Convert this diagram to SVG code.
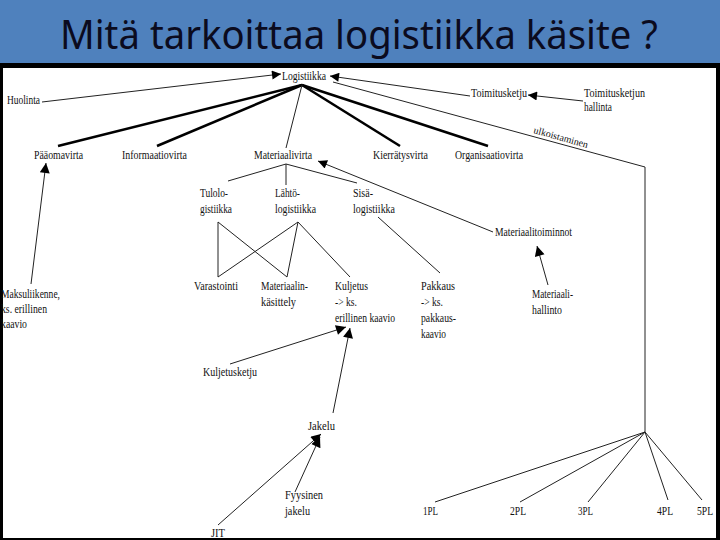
<svg xmlns="http://www.w3.org/2000/svg" width="720" height="540" viewBox="0 0 720 540">
<style>
.t{font-family:"Liberation Serif","Times New Roman",serif;font-size:11.5px;fill:#111}
.s{font-size:10px}
.ln{stroke:#222;stroke-width:1;fill:none}
.th{stroke:#000;stroke-width:2.6;fill:none}
.ttl{font-family:"Noto Sans","Open Sans",sans-serif;font-size:40px;fill:#0b0b1e}
</style>
<defs>
<marker id="ah" viewBox="0 0 10 10" refX="10" refY="5" markerWidth="14" markerHeight="9" markerUnits="userSpaceOnUse" orient="auto">
<path d="M0,0 L10,5 L0,10 Z" fill="#000"/>
</marker>
<marker id="ahb" viewBox="0 0 10 10" refX="10" refY="5" markerWidth="17" markerHeight="10" markerUnits="userSpaceOnUse" orient="auto">
<path d="M0,0 L10,5 L0,10 Z" fill="#000"/>
</marker>
</defs>
<rect x="0" y="0" width="720" height="63" fill="#4f81bd"/>
<rect x="0" y="63" width="720" height="477" fill="#000"/>
<rect x="3" y="68" width="713" height="470" fill="#fff"/>
<text class="ttl" x="60" y="49" textLength="598" lengthAdjust="spacingAndGlyphs">Mitä tarkoittaa logistiikka käsite ?</text>

<g id="connectors">
<line class="ln" x1="42" y1="102" x2="281" y2="74" marker-end="url(#ah)"/>
<line class="ln" x1="470" y1="96" x2="330" y2="76" marker-end="url(#ah)"/>
<line class="ln" x1="583" y1="101" x2="528" y2="95" marker-end="url(#ah)"/>
<polyline class="ln" stroke="#444" points="333,82 645,167 645,432"/>
<line class="th" x1="302" y1="85" x2="58" y2="146"/>
<line class="th" x1="302" y1="85" x2="157" y2="146"/>
<line class="th" x1="302" y1="85" x2="400" y2="146"/>
<line class="th" x1="302" y1="85" x2="488" y2="146"/>
<line class="ln" x1="302" y1="85" x2="286" y2="148"/>
<line class="ln" x1="286" y1="164" x2="228" y2="181"/>
<line class="ln" x1="286" y1="164" x2="286" y2="185"/>
<line class="ln" x1="286" y1="164" x2="357" y2="183"/>
<line class="ln" x1="493" y1="232" x2="318" y2="161" marker-end="url(#ah)"/>
<line class="ln" x1="218" y1="222" x2="218" y2="277"/>
<line class="ln" x1="218" y1="222" x2="287" y2="277"/>
<line class="ln" x1="298" y1="222" x2="218" y2="277"/>
<line class="ln" x1="298" y1="222" x2="287" y2="277"/>
<line class="ln" x1="298" y1="222" x2="350" y2="277"/>
<line class="ln" x1="378" y1="217" x2="440" y2="273"/>
<line class="ln" x1="548" y1="285" x2="537" y2="246" marker-end="url(#ahb)"/>
<line class="ln" x1="31" y1="284" x2="46" y2="163" marker-end="url(#ahb)"/>
<line class="ln" x1="230" y1="364" x2="346" y2="327" marker-end="url(#ahb)"/>
<line class="ln" x1="333" y1="413" x2="350" y2="328" marker-end="url(#ahb)"/>
<line class="ln" x1="218" y1="525" x2="321" y2="434" marker-end="url(#ahb)"/>
<line class="ln" x1="295" y1="492" x2="320" y2="437" marker-end="url(#ahb)"/>
<line class="ln" x1="645" y1="432" x2="435" y2="502"/>
<line class="ln" x1="645" y1="432" x2="520" y2="502"/>
<line class="ln" x1="645" y1="432" x2="588" y2="502"/>
<line class="ln" x1="645" y1="432" x2="668" y2="500"/>
<line class="ln" x1="645" y1="432" x2="702" y2="500"/>
</g>

<g id="n-logistiikka"><text class="t" x="282" y="80" textLength="44" lengthAdjust="spacingAndGlyphs">Logistiikka</text></g>
<g id="n-huolinta"><text class="t" x="7" y="104" textLength="33" lengthAdjust="spacingAndGlyphs">Huolinta</text></g>
<g id="n-paaomavirta"><text class="t" x="34" y="159" textLength="49" lengthAdjust="spacingAndGlyphs">Pääomavirta</text></g>
<g id="n-informaatiovirta"><text class="t" x="122" y="159" textLength="65" lengthAdjust="spacingAndGlyphs">Informaatiovirta</text></g>
<g id="n-materiaalivirta"><text class="t" x="254" y="159" textLength="58" lengthAdjust="spacingAndGlyphs">Materiaalivirta</text></g>
<g id="n-kierratysvirta"><text class="t" x="373" y="159" textLength="55" lengthAdjust="spacingAndGlyphs">Kierrätysvirta</text></g>
<g id="n-organisaatiovirta"><text class="t" x="455" y="159" textLength="68" lengthAdjust="spacingAndGlyphs">Organisaatiovirta</text></g>
<g id="n-toimitusketju"><text class="t" x="471" y="97" textLength="56" lengthAdjust="spacingAndGlyphs">Toimitusketju</text></g>
<g id="n-toimitusketjun-hallinta"><text class="t" x="584" y="97" textLength="61" lengthAdjust="spacingAndGlyphs">Toimitusketjun</text><text class="t" x="584" y="111" textLength="28" lengthAdjust="spacingAndGlyphs">hallinta</text></g>
<g id="n-ulkoistaminen"><text class="t s" x="0" y="0" transform="translate(533,133) rotate(15.5)" textLength="56" lengthAdjust="spacingAndGlyphs">ulkoistaminen</text></g>
<g id="n-tulologistiikka"><text class="t" x="200" y="197" textLength="28" lengthAdjust="spacingAndGlyphs">Tulolo-</text><text class="t" x="200" y="213" textLength="32" lengthAdjust="spacingAndGlyphs">gistiikka</text></g>
<g id="n-lahtologistiikka"><text class="t" x="275" y="197" textLength="25" lengthAdjust="spacingAndGlyphs">Lähtö-</text><text class="t" x="275" y="213" textLength="41" lengthAdjust="spacingAndGlyphs">logistiikka</text></g>
<g id="n-sisalogistiikka"><text class="t" x="353" y="197" textLength="20" lengthAdjust="spacingAndGlyphs">Sisä-</text><text class="t" x="353" y="213" textLength="42" lengthAdjust="spacingAndGlyphs">logistiikka</text></g>
<g id="n-varastointi"><text class="t" x="194" y="290" textLength="44" lengthAdjust="spacingAndGlyphs">Varastointi</text></g>
<g id="n-materiaalinkasittely"><text class="t" x="261" y="290" textLength="47" lengthAdjust="spacingAndGlyphs">Materiaalin-</text><text class="t" x="261" y="306" textLength="35" lengthAdjust="spacingAndGlyphs">käsittely</text></g>
<g id="n-kuljetus"><text class="t" x="335" y="290" textLength="33" lengthAdjust="spacingAndGlyphs">Kuljetus</text><text class="t" x="335" y="306" textLength="22" lengthAdjust="spacingAndGlyphs">-&gt; ks.</text><text class="t" x="335" y="322" textLength="60" lengthAdjust="spacingAndGlyphs">erillinen kaavio</text></g>
<g id="n-pakkaus"><text class="t" x="421" y="290" textLength="34" lengthAdjust="spacingAndGlyphs">Pakkaus</text><text class="t" x="421" y="306" textLength="22" lengthAdjust="spacingAndGlyphs">-&gt; ks.</text><text class="t" x="421" y="322" textLength="35" lengthAdjust="spacingAndGlyphs">pakkaus-</text><text class="t" x="421" y="338" textLength="25" lengthAdjust="spacingAndGlyphs">kaavio</text></g>
<g id="n-materiaalitoiminnot"><text class="t" x="495" y="236" textLength="77" lengthAdjust="spacingAndGlyphs">Materiaalitoiminnot</text></g>
<g id="n-materiaalihallinto"><text class="t" x="532" y="298" textLength="41" lengthAdjust="spacingAndGlyphs">Materiaali-</text><text class="t" x="532" y="314" textLength="30" lengthAdjust="spacingAndGlyphs">hallinto</text></g>
<g id="n-maksuliikenne"><text class="t" x="1" y="298" textLength="59" lengthAdjust="spacingAndGlyphs">Maksuliikenne,</text><text class="t" x="1" y="313" textLength="46" lengthAdjust="spacingAndGlyphs">ks.  erillinen</text><text class="t" x="1" y="328" textLength="26" lengthAdjust="spacingAndGlyphs">kaavio</text></g>
<g id="n-kuljetusketju"><text class="t" x="203" y="376" textLength="54" lengthAdjust="spacingAndGlyphs">Kuljetusketju</text></g>
<g id="n-jakelu"><text class="t" x="308" y="430" textLength="27" lengthAdjust="spacingAndGlyphs">Jakelu</text></g>
<g id="n-fyysinen-jakelu"><text class="t" x="285" y="499" textLength="38" lengthAdjust="spacingAndGlyphs">Fyysinen</text><text class="t" x="285" y="515" textLength="25" lengthAdjust="spacingAndGlyphs">jakelu</text></g>
<g id="n-jit"><text class="t" x="211" y="537" textLength="14" lengthAdjust="spacingAndGlyphs">JIT</text></g>
<g id="n-1pl"><text class="t" x="423" y="515" textLength="15" lengthAdjust="spacingAndGlyphs">1PL</text></g>
<g id="n-2pl"><text class="t" x="510" y="515" textLength="16" lengthAdjust="spacingAndGlyphs">2PL</text></g>
<g id="n-3pl"><text class="t" x="578" y="515" textLength="15" lengthAdjust="spacingAndGlyphs">3PL</text></g>
<g id="n-4pl"><text class="t" x="657" y="515" textLength="16" lengthAdjust="spacingAndGlyphs">4PL</text></g>
<g id="n-5pl"><text class="t" x="697" y="515" textLength="16" lengthAdjust="spacingAndGlyphs">5PL</text></g>
</svg>
